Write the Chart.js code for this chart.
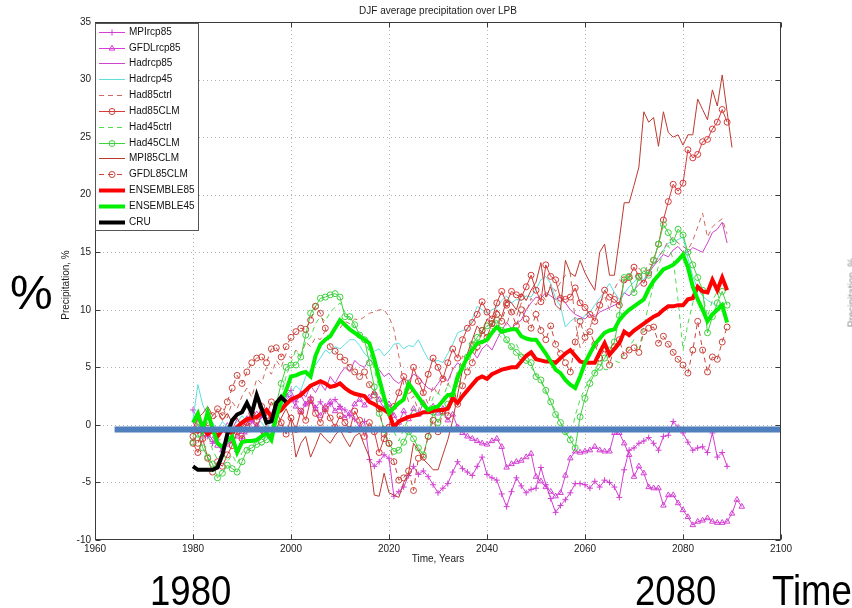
<!DOCTYPE html>
<html>
<head>
<meta charset="utf-8">
<title>DJF average precipitation over LPB</title>
<script src="https://cdn.jsdelivr.net/npm/chart.js@4.4.0/dist/chart.umd.min.js"></script>
<style>
  html, body { margin: 0; padding: 0; background: #fff; overflow: hidden; }
  #wrap { position: relative; width: 852px; height: 608px; overflow: hidden; }
  #chart { position: absolute; left: 0; top: 0; }
  .big { position: absolute; line-height: 1; color: #000; white-space: nowrap; }
  .narrow { font-family: "Liberation Sans", Arial, sans-serif; font-size: 43px;
            transform: scaleX(0.85); transform-origin: 0 50%; }
  #pct { left: 10px; top: 269px; font-family: "Liberation Sans", Arial, sans-serif; font-size: 48px; }
  #ghost { position: absolute; left: 812px; top: 287px; width: 80px; text-align: center;
           font: 10px "Liberation Sans", Arial, sans-serif; color: #8a8a8a; transform: rotate(-90deg); }
</style>
</head>
<body>
<div id="wrap">
  <canvas id="chart" width="852" height="608"></canvas>
  <div class="big" id="pct">%</div>
  <div class="big narrow" style="left:150px; top:569px;">1980</div>
  <div class="big narrow" style="left:635px; top:569px;">2080</div>
  <div class="big narrow" style="left:772px; top:569px;">Time</div>
  <div id="ghost">Precipitation, %</div>
</div>
<script>
// Values, one per year starting at firstYear
const firstYear = 1980;

const cru = [
  -3.6, -3.9, -3.9, -3.9, -3.9, -3.7, -2.6, -0.8, 0.4, 0.9,
  1.1, 1.9, 1.0, 2.6, 1.4, 0.2, 0.3, 1.9, 2.4, 2.0
];

const ensemble85 = [
  -0.4, -0.6, -0.3, -0.8, -0.5, -1.0, -0.4, -0.6, -0.7, -0.2,
  0.2, 0.5, 0.6, 0.7, 1.0, 1.3, 0.7, 1.0, 1.3, 1.8,
  2.2, 2.4, 2.6, 3.0, 3.4, 3.6, 3.8, 3.6, 3.3, 3.4,
  3.6, 3.2, 2.9, 2.7, 2.6, 2.5, 2.0, 1.8, 1.5, 1.3,
  1.0, -0.2, 0.3, 0.5, 0.7, 0.8, 0.9, 1.1, 1.1, 1.2,
  1.3, 1.3, 1.4, 2.3, 1.9, 2.5, 3.0, 3.5, 4.0, 4.2,
  4.0, 4.4, 4.6, 4.8, 4.9, 5.0, 5.0, 5.5, 6.0, 6.3,
  5.7, 5.6, 5.5, 5.5, 5.4, 5.8, 6.2, 6.5, 6.0, 5.5,
  5.4, 5.4, 5.4, 6.3, 7.1, 6.1, 6.6, 7.1, 8.1, 7.8,
  8.2, 8.5, 8.8, 9.1, 9.4, 9.6, 10.0, 10.3, 10.3, 10.4,
  10.4, 10.9, 11.0, 12.0, 11.6, 11.5, 12.6, 11.7, 12.8, 11.7
];

const ensemble45 = [
  0.2, 1.0, -0.4, 1.1, -0.3, -1.6, -1.9, -1.4, -1.0, -2.4,
  -1.5, -1.4, -1.4, -1.3, -1.0, -0.7, -1.3, 0.7, 2.0, 3.0,
  4.2, 4.3, 4.5, 4.6, 4.2, 6.0, 7.0, 7.4, 7.7, 8.4,
  9.1, 8.7, 8.3, 8.0, 7.7, 7.4, 7.1, 5.7, 4.0, 2.4,
  1.0, 1.5, 1.9, 2.2, 3.6, 3.0, 2.4, 1.8, 1.3, 1.5,
  1.6, 2.1, 2.6, 2.6, 4.2, 5.0, 5.9, 6.5, 7.1, 7.2,
  7.4, 8.0, 8.5, 8.1, 8.2, 8.3, 8.3, 7.7, 7.5, 7.4,
  7.4, 6.8, 6.2, 5.5, 4.8, 4.5, 3.9, 3.5, 3.2, 4.2,
  5.4, 6.2, 7.0, 7.5, 8.0, 8.2, 8.3, 9.1, 9.6, 10.0,
  10.3, 10.6, 10.9, 11.8, 12.5, 13.0, 13.5, 13.7, 13.9, 14.3,
  14.8, 13.7, 12.0, 10.9, 10.0, 9.0, 9.6, 10.0, 10.4, 8.9
];

const mpiRcp85 = [
  1.3, 0.5, -0.5, -1.0, -1.6, -1.3, -2.0, -1.2, -1.5, -2.3,
  -1.2, -0.6, 0.3, -0.2, 0.8, 1.2, 0.6, 1.5, 2.2, 2.6,
  3.0, 2.0, 2.6, 1.8, 2.4, 1.5, 2.0, 1.2, 1.8, 2.2,
  1.6, 1.3, 0.8, 0.5, -0.2, 0.3, -3.0, -3.6, -3.2, -2.6,
  -2.9, -6.2, -5.8, -5.4, -4.4, -3.6, -4.3, -4.0, -4.5, -5.2,
  -5.9, -5.5, -5.1, -4.1, -3.2, -3.8, -4.1, -4.4, -3.6, -2.8,
  -4.3, -4.6, -4.8, -6.0, -7.1, -5.8, -4.6, -5.3, -5.9, -5.6,
  -5.5, -3.7, -5.2, -6.4, -7.6, -7.0, -6.5, -5.9, -5.1, -5.1,
  -5.2, -5.5, -4.9, -5.4, -4.8, -5.0, -5.4, -6.3, -3.9, -2.2,
  -2.0, -1.6, -1.4, -1.1, -1.6, -2.2, -1.0, -0.9, 0.3, -0.2,
  -0.7, -1.5, -2.2, -2.0, -1.9, -2.4, -0.7, -2.8, -2.4, -3.6
];

const gfdlRcp85 = [
  -0.5, -0.2, -1.0, -0.8, -1.3, -1.8, -2.2, -1.7, -1.4, -1.0,
  -0.6, 0.2, 0.5, -0.3, 0.8, 1.2, 0.6, 1.6, 2.4, 2.6,
  2.2, 1.6, 1.1, 1.8, 2.0, 1.4, 0.8, 1.6, 2.0, 1.2,
  1.5, 0.6, 1.0, 1.8, 2.2, 1.7, 2.4, 2.8, 2.2, 1.4,
  1.8, 0.8, 0.2, 1.2, 0.5, 1.4, 0.9, 1.9, 1.2, 1.6,
  1.0, 1.4, 0.4, 0.9, -0.2, -0.7, -1.0, -1.2, -1.4, -1.6,
  -1.7, -1.4, -1.2, -1.9, -3.7, -3.4, -3.2, -3.1, -2.8, -2.5,
  -4.5, -4.9, -5.4, -5.8, -6.2, -5.9, -4.4, -2.9, -2.3, -2.4,
  -2.3, -2.2, -1.9, -2.2, -2.3, -2.3, -0.7, -0.7, -1.6, -2.6,
  -4.5, -3.6, -4.2, -5.4, -5.5, -5.5, -7.0, -6.1, -6.1, -6.8,
  -7.4, -8.0, -8.7, -8.4, -8.3, -8.1, -8.4, -8.5, -8.5, -8.4,
  -7.7, -6.5, -7.1
];

const hadRcp85 = [
  0.2, -0.5, 0.3, -0.8, -0.3, -1.2, -0.6, 0.2, -0.4, 0.5,
  0.0, 0.8, 0.4, 1.2, 0.6, 1.5, 1.0, 2.0, 1.4, 2.2,
  2.6, 2.0, 3.0, 2.4, 3.4, 2.8, 3.6, 3.0, 4.2, 3.6,
  4.4, 5.0, 4.6, 5.6, 5.2, 5.0, 5.7, 5.2, 4.8, 4.2,
  4.5, 3.9, 3.6, 4.0, 3.8, 4.4, 4.2, 3.6, 3.2, 3.0,
  3.6, 4.2, 3.8, 4.8, 5.4, 5.0, 5.9, 6.4, 5.8, 6.6,
  7.0, 6.5, 7.4, 8.2, 8.9, 8.4, 8.8, 9.1, 10.0, 10.6,
  11.1, 11.0, 11.5, 11.2, 10.9, 11.1, 10.6, 10.0, 9.6, 9.4,
  9.2, 9.6, 9.4, 9.8, 10.0, 10.2, 10.4, 10.6, 11.5, 11.2,
  11.7, 12.2, 12.6, 13.2, 13.8, 14.3, 14.8, 14.6, 15.2, 15.5,
  15.0, 15.0, 15.4, 15.2, 15.0, 15.8, 16.7, 17.0, 17.6, 15.8
];

const hadRcp45 = [
  0.5, 3.5, 1.7, 0.8, 0.2, -0.5, 0.3, -0.2, 0.6, 0.2,
  0.8, 0.3, 1.2, 0.6, 0.2, -0.4, 0.4, 1.0, 1.6, 2.4,
  2.8, 3.4, 3.0, 4.2, 4.8, 5.2, 5.8, 6.5, 6.2, 6.8,
  6.6, 7.0, 7.4, 7.4, 6.9, 6.2, 5.8, 6.4, 6.6, 6.0,
  6.4, 7.0, 7.1, 6.6, 6.9, 6.8, 7.4, 6.5, 5.7, 5.5,
  5.6, 5.4, 6.2, 7.0, 8.0, 8.2, 8.3, 9.2, 10.3, 10.0,
  9.7, 10.0, 10.2, 10.8, 11.2, 10.6, 10.9, 10.8, 11.2, 11.1,
  11.8, 12.6, 12.9, 12.3, 11.0, 10.3, 8.5, 9.0, 9.3, 9.1,
  9.5, 9.8, 10.4, 11.0, 11.6, 12.3, 11.5, 10.9, 11.4, 12.0,
  12.4, 12.9, 12.6, 13.4, 14.0, 14.6, 15.2, 15.8, 15.9, 16.1,
  16.3, 14.5, 12.9, 11.8, 11.2, 10.8, 10.6, 10.2, 10.6, 9.2
];

const had85ctrl = [
  -0.8, 0.5, -0.2, 1.2, 0.4, 0.8, 1.6, 0.6, 2.0, 1.4,
  2.5, 3.2, 2.4, 4.0, 3.6, 5.0, 4.4, 5.6, 5.0, 6.2,
  5.8, 6.5, 6.0, 7.2, 6.8, 7.6, 7.4, 8.2, 7.8, 8.6,
  8.4, 9.0, 8.8, 9.2, 9.1, 9.4, 9.7, 9.8, 10.0, 10.0,
  9.4, 8.3, 6.0, 3.5, 2.0, 2.5, 1.2, 2.8, 1.8, 3.4,
  2.6, 4.2, 3.4, 5.0, 4.4, 6.0, 5.6, 7.2, 6.4, 8.0,
  7.6, 8.8, 8.2, 9.4, 8.6, 10.2, 9.4, 10.6, 9.8, 11.0,
  10.4, 11.4, 10.8, 12.2, 11.6, 12.4, 13.0, 13.2, 9.0, 6.7,
  7.4, 8.4, 9.8, 10.6, 11.2, 10.0, 11.8, 12.6, 12.2, 13.0,
  12.6, 13.6, 13.2, 14.0, 13.8, 14.6, 15.2, 16.0, 16.3, 15.8,
  15.5, 15.2, 16.0, 17.2, 18.4, 16.3, 17.2, 17.6, 17.9, 16.6
];

const had85clm = [
  -1.6, -2.4, -1.2, -2.9, -4.1, -3.2, -3.6, -2.6, -1.8, -0.6,
  -1.2, 0.2, 1.0, 0.4, 1.6, 0.8, 2.0, 1.2, 0.2, -0.8,
  0.6, -0.4, 1.2, 0.4, 2.2, 1.0, 0.2, 1.4, 0.6, -0.2,
  0.8, 0.2, -0.4, 1.2, 0.4, -1.0, 0.2, -0.6, -2.4, -1.2,
  -0.2, 1.6, 2.8, 4.2, 3.0, 5.0, 3.8, 2.8, 4.4, 5.8,
  5.0, 4.0, 5.4, 6.6, 5.8, 7.4, 8.4, 8.9, 9.6, 10.7,
  9.8, 9.2, 10.6, 11.6, 10.6, 11.6, 11.3, 11.1, 12.0, 13.0,
  11.7, 10.7, 13.9, 12.9, 12.6, 11.0, 10.9, 11.1, 11.9, 10.6,
  10.2, 9.6, 9.0, 10.4, 11.7, 11.1, 10.9, 10.4, 12.6, 12.8,
  13.7, 12.9, 12.3, 13.2, 14.3, 15.7, 17.8, 19.4, 20.9, 20.3,
  21.0, 23.9, 23.2, 23.5, 24.6, 24.8, 25.7, 26.3, 27.4, 26.3
];

const had45ctrl = [
  -1.0, 0.2, -1.2, -0.6, -2.2, -3.0, -2.4, -3.2, -2.6, -3.4,
  -2.4, -2.0, -2.6, -1.4, -1.8, -0.8, -1.6, 0.4, 2.6, 4.2,
  5.4, 6.5, 5.8, 7.2, 7.6, 8.8, 9.4, 9.0, 9.8, 10.2,
  10.6, 9.8, 9.2, 8.4, 8.0, 7.2, 6.4, 4.8, 3.2, 1.6,
  0.8, -0.6, -1.4, -0.4, 0.6, 1.4, 0.8, 2.0, 1.2, 2.4,
  2.8, 2.2, 3.6, 3.0, 4.4, 5.2, 6.0, 6.6, 7.4, 7.0,
  7.8, 8.4, 8.0, 7.6, 7.2, 6.6, 7.0, 6.2, 5.6, 5.0,
  4.4, 3.8, 2.8, 2.0, 1.2, 0.2, -0.8, -1.2, 0.8, 2.2,
  3.2, 4.0, 4.6, 5.8, 4.8, 4.8, 5.6, 5.4, 6.2, 6.8,
  7.4, 6.4, 8.6, 10.4, 12.2, 13.8, 15.0, 15.6, 14.4, 10.8,
  6.5, 8.8, 10.6, 12.0, 11.4, 9.4, 10.8, 11.6, 9.8, 10.2
];

const had45clm = [
  -1.5, -0.8, -2.0, -2.8, -3.4, -4.6, -4.2, -3.5, -3.8, -4.1,
  -3.2, -2.2, -2.0, -1.7, -1.5, -1.3, -0.6, 1.8, 3.6, 5.0,
  5.2, 5.2, 5.9, 7.8, 9.7, 10.3, 11.0, 11.1, 11.3, 11.4,
  11.1, 9.4, 9.4, 8.7, 7.8, 7.4, 5.4, 3.3, 1.0, -0.4,
  -1.6, -2.3, -2.2, -1.5, -0.6, -1.2, -2.0, -2.6, -1.0, 1.1,
  0.2, 1.1, 1.8, 2.6, 3.6, 5.0, 5.9, 7.0, 7.6, 8.2,
  8.6, 8.8, 9.1, 8.2, 7.4, 6.8, 6.3, 5.9, 5.6, 5.4,
  4.2, 3.9, 3.0, 2.0, 0.9, 0.2, -0.6, -1.3, -2.0, 0.7,
  2.3, 3.6, 4.5, 5.0, 5.8, 6.5, 7.2, 9.5, 12.8, 12.9,
  11.5, 12.8, 13.4, 13.0, 14.3, 15.7, 17.4, 16.7, 15.9, 17.0,
  16.5, 15.0, 13.9, 12.8, 11.7, 8.0, 9.4, 10.6, 11.6, 10.4
];

const mpi85clm = [
  -0.3, 0.6, 1.0, 1.6, 0.8, 1.2, 0.4, 1.0, 0.2, 0.6,
  -0.2, 0.4, -0.6, 0.2, -0.8, 0.0, 0.8, -0.4, 0.6, 1.4,
  0.4, -2.8, -1.6, -1.0, -2.8, -1.8, -0.7, -1.2, -1.6, -0.9,
  -0.4, -1.2, -1.9, -1.0, -0.7, -1.8, -2.8, -6.1, -6.2, -4.2,
  -5.9, -6.1, -6.3, -5.0, -4.2, -1.6, -2.2, -3.0, -3.4, -3.9,
  -3.9, -2.6, -1.3, 0.4, 2.6, 4.8, 6.2, 7.4, 8.6, 8.0,
  9.2, 8.6, 10.0, 9.4, 10.8, 10.6, 10.0, 11.4, 10.8, 11.7,
  12.4, 14.1, 11.1, 12.0, 10.4, 10.0, 14.3, 13.2, 12.9, 14.3,
  13.2, 12.4, 11.7, 15.0, 15.7, 13.0, 13.0, 16.1, 19.3, 19.3,
  20.8, 22.4, 27.2, 26.3, 26.7, 24.2, 27.2, 25.4, 25.0, 25.2,
  24.3, 25.2, 25.2, 28.3, 27.4, 26.5, 29.1, 27.7, 30.4, 27.2,
  24.1
];

const gfdl85clm = [
  -1.0, -1.6, -0.4, 0.2, 0.8, 1.4, 0.8, 2.0, 3.2, 4.3,
  3.6, 4.6, 5.4, 5.8, 5.9, 5.4, 6.6, 6.7, 5.9, 6.8,
  7.6, 8.1, 8.4, 8.3, 9.1, 10.3, 9.7, 8.4, 6.8, 6.4,
  5.9, 5.6, 5.0, 4.6, 4.2, 4.6, 3.5, 2.6, 1.4, -0.8,
  -1.6, -3.2, -4.8, -4.6, -4.0, -5.7, -2.9, -2.8, -1.0, 0.4,
  -0.6, 1.2, 0.8, 2.4, 1.8, 3.4, 4.6, 5.4, 6.8, 8.2,
  7.6, 8.8, 9.6, 9.0, 10.4, 9.8, 8.6, 10.0, 9.2, 8.4,
  9.6, 8.2, 7.4, 8.6, 7.0, 6.2, 5.4, 4.6, 7.2, 9.0,
  7.6, 8.1, 7.0, 5.8, 6.6, 5.2, 6.8, 7.4, 6.0, 6.5,
  6.7, 6.3, 8.1, 8.4, 8.5, 7.1, 7.7, 7.0, 6.3, 5.7,
  5.2, 4.5, 6.5, 9.0, 6.5, 4.6, 5.9, 5.7, 7.2, 8.5
];

// Blue horizontal bar laid over the plot
const barYears = [1964, 2100];
const barLevel = -0.4;

// Axis ticks
const xTicks = [1960, 1980, 2000, 2020, 2040, 2060, 2080, 2100];
const yTicks = [-10, -5, 0, 5, 10, 15, 20, 25, 30, 35];

function pts(vals) {
  return vals.map((v, i) => ({ x: firstYear + i, y: v }));
}

function series(label, vals, color, opts) {
  return Object.assign({
    label: label,
    data: pts(vals),
    borderColor: color,
    pointBorderColor: color,
    pointBackgroundColor: 'rgba(0,0,0,0)',
    borderWidth: 1,
    pointRadius: 0,
    pointBorderWidth: 1,
    tension: 0,
    fill: false
  }, opts || {});
}

const legendSets = [
  series('MPIrcp85', mpiRcp85, '#d23fd2', { pointStyle: 'cross', pointRadius: 3 }),
  series('GFDLrcp85', gfdlRcp85, '#d23fd2', { pointStyle: 'triangle', pointRadius: 3.2 }),
  series('Hadrcp85', hadRcp85, '#cc44cc'),
  series('Hadrcp45', hadRcp45, '#5fdede'),
  series('Had85ctrl', had85ctrl, '#cc6a60', { borderDash: [5, 4] }),
  series('Had85CLM', had85clm, '#d63a3a', { pointStyle: 'circle', pointRadius: 3 }),
  series('Had45ctrl', had45ctrl, '#4ede4e', { borderDash: [5, 4] }),
  series('Had45CLM', had45clm, '#3fd23f', { pointStyle: 'circle', pointRadius: 3 }),
  series('MPI85CLM', mpi85clm, '#bb3a30'),
  series('GFDL85CLM', gfdl85clm, '#c8453c', { borderDash: [5, 4], pointStyle: 'circle', pointRadius: 3 }),
  series('ENSEMBLE85', ensemble85, '#ff0000', { borderWidth: 4 }),
  series('ENSEMBLE45', ensemble45, '#00f000', { borderWidth: 4 }),
  series('CRU', cru, '#000000', { borderWidth: 4 })
];
// later series sit on top, as in the original plot
legendSets.forEach((d, i) => { d.order = legendSets.length - i; });

const bar = {
  label: 'bar',
  data: barYears.map(x => ({ x: x, y: barLevel })),
  borderColor: '#4f7fbd',
  borderWidth: 6,
  borderCapStyle: 'butt',
  pointRadius: 0,
  order: 0
};

const frame = {
  id: 'frame',
  beforeDatasetsDraw(chart) {
    const { ctx, chartArea: a, scales } = chart;
    ctx.save();
    ctx.strokeStyle = '#b5b5b5';
    ctx.lineWidth = 1;
    ctx.setLineDash([1, 3]);
    ctx.beginPath();
    xTicks.slice(1, -1).forEach(v => {
      const px = Math.round(scales.x.getPixelForValue(v)) + 0.5;
      ctx.moveTo(px, a.top);
      ctx.lineTo(px, a.bottom);
    });
    yTicks.slice(1, -1).forEach(v => {
      const py = Math.round(scales.y.getPixelForValue(v)) + 0.5;
      ctx.moveTo(a.left, py);
      ctx.lineTo(a.right, py);
    });
    ctx.stroke();
    ctx.restore();
  },
  afterDraw(chart) {
    const { ctx, chartArea: a, scales } = chart;
    const L = Math.round(a.left) + 0.5, R = Math.round(a.right) - 0.5;
    const T = Math.round(a.top) + 0.5, B = Math.round(a.bottom) - 0.5;
    ctx.save();
    // box and inward ticks
    ctx.strokeStyle = '#3a3a3a';
    ctx.lineWidth = 1;
    ctx.strokeRect(L, T, R - L, B - T);
    ctx.beginPath();
    xTicks.forEach(v => {
      const px = Math.round(scales.x.getPixelForValue(v)) + 0.5;
      ctx.moveTo(px, B); ctx.lineTo(px, B - 5);
      ctx.moveTo(px, T); ctx.lineTo(px, T + 5);
    });
    yTicks.forEach(v => {
      const py = Math.round(scales.y.getPixelForValue(v)) + 0.5;
      ctx.moveTo(L, py); ctx.lineTo(L + 5, py);
      ctx.moveTo(R, py); ctx.lineTo(R - 5, py);
    });
    ctx.stroke();

    // titles
    ctx.fillStyle = '#1a1a1a';
    ctx.font = '10px "Liberation Sans", Arial, sans-serif';
    ctx.textAlign = 'center';
    ctx.textBaseline = 'middle';
    const cx = (a.left + a.right) / 2;
    ctx.fillText('DJF average precipitation over LPB', cx, 11);
    ctx.fillText('Time, Years', cx, 559);
    ctx.save();
    ctx.translate(66, (a.top + a.bottom) / 2 + 4);
    ctx.rotate(-Math.PI / 2);
    ctx.fillText('Precipitation, %', 0, 0);
    ctx.restore();

    // legend box
    const bx = 95.5, by = 23.5, bw = 103, bh = 207;
    ctx.fillStyle = '#ffffff';
    ctx.fillRect(bx, by, bw, bh);
    ctx.strokeStyle = '#555';
    ctx.lineWidth = 1;
    ctx.strokeRect(bx, by, bw, bh);
    ctx.textAlign = 'left';
    legendSets.forEach((d, i) => {
      const y = Math.round(31.7 + i * 15.83) + 0.5;
      ctx.save();
      ctx.strokeStyle = d.borderColor;
      ctx.lineWidth = d.borderWidth;
      ctx.setLineDash(d.borderDash || []);
      ctx.beginPath();
      ctx.moveTo(99, y);
      ctx.lineTo(125, y);
      ctx.stroke();
      ctx.restore();
      if (d.pointStyle) {
        ctx.save();
        ctx.strokeStyle = d.borderColor;
        ctx.fillStyle = 'rgba(0,0,0,0)';
        ctx.lineWidth = 1;
        Chart.helpers.drawPoint(ctx, { pointStyle: d.pointStyle, radius: d.pointRadius, rotation: 0, borderWidth: 1 }, 112, y);
        ctx.restore();
      }
      ctx.fillStyle = '#111';
      ctx.fillText(d.label, 129, y);
    });
    ctx.restore();
  }
};

Chart.defaults.font.family = '"Liberation Sans", Arial, sans-serif';
Chart.defaults.font.size = 10;
Chart.defaults.color = '#222';

new Chart(document.getElementById('chart'), {
  type: 'line',
  data: { datasets: [bar].concat(legendSets) },
  options: {
    responsive: false,
    animation: false,
    events: [],
    layout: { padding: { top: 22, right: 71, left: 0, bottom: 0 } },
    plugins: { legend: { display: false }, tooltip: { enabled: false }, title: { display: false } },
    scales: {
      x: {
        type: 'linear',
        min: 1960,
        max: 2100,
        afterBuildTicks: s => { s.ticks = xTicks.map(v => ({ value: v })); },
        ticks: { padding: 3, maxRotation: 0, autoSkip: false, callback: v => String(v) },
        grid: { display: false, drawTicks: false },
        border: { display: false },
        afterFit: s => { s.height = 68; }
      },
      y: {
        type: 'linear',
        min: -10,
        max: 35,
        afterBuildTicks: s => { s.ticks = yTicks.map(v => ({ value: v })); },
        ticks: { padding: 4, autoSkip: false, callback: v => String(v) },
        grid: { display: false, drawTicks: false },
        border: { display: false },
        afterFit: s => { s.width = 95; }
      }
    }
  },
  plugins: [frame]
});
</script>
</body>
</html>
